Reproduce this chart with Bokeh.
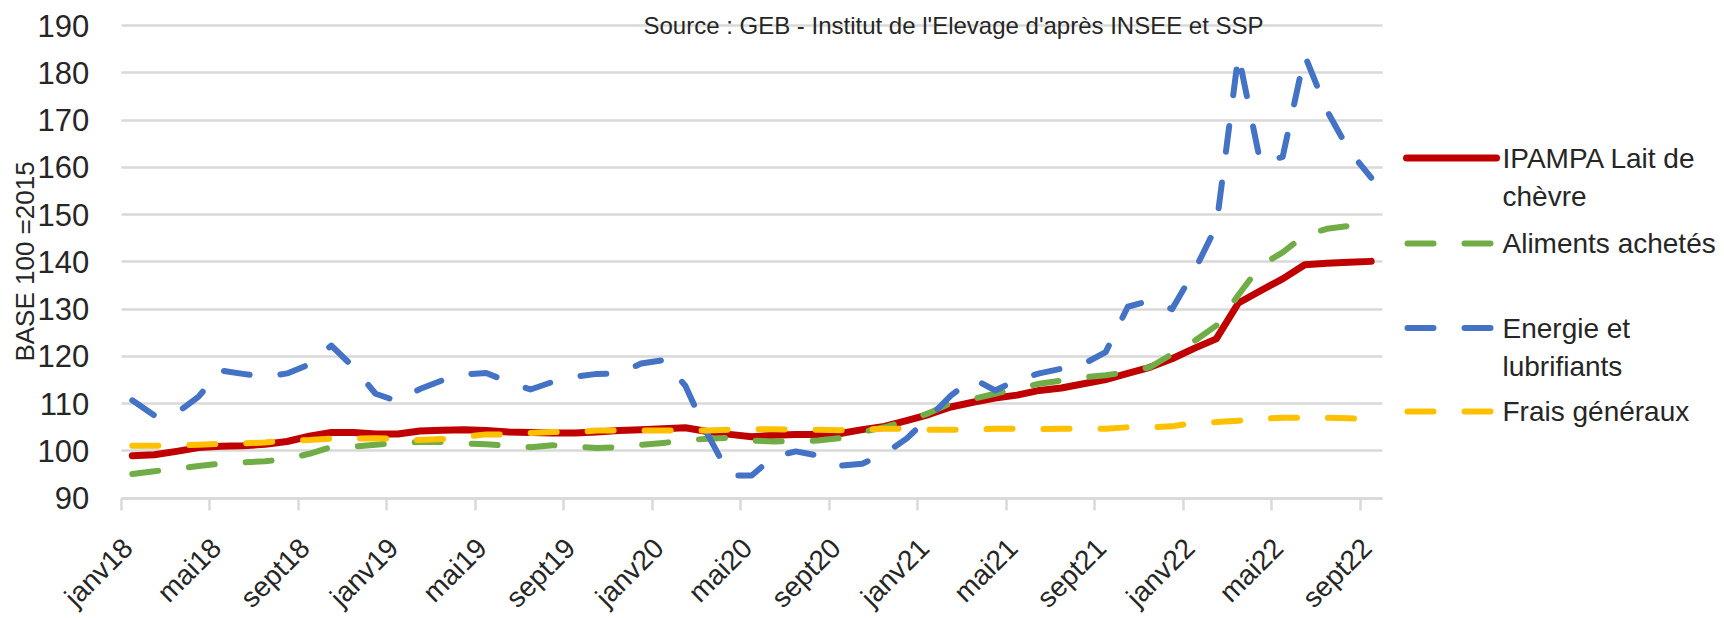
import math
from bokeh.plotting import figure
from bokeh.models import Range1d, FixedTicker, Label
from bokeh.embed import file_html
from bokeh.resources import INLINE
from bokeh.core.properties import value

# ---------------- data ----------------
month_names = ["janv", "févr", "mars", "avr", "mai", "juin",
               "juil", "août", "sept", "oct", "nov", "déc"]
years = ["18", "19", "20", "21", "22"]
months = [m + y for y in years for m in month_names][:57]   # janv18 .. sept22

tick_labels = ["janv18", "mai18", "sept18", "janv19", "mai19", "sept19",
               "janv20", "mai20", "sept20", "janv21", "mai21", "sept21",
               "janv22", "mai22", "sept22"]

ipampa = [99.0, 99.2, 99.9, 100.7, 101.0, 101.1, 101.4, 102.0, 103.1, 103.9,
          103.9, 103.6, 103.6, 104.2, 104.4, 104.5, 104.3, 104.0, 103.9, 103.8,
          103.8, 104.0, 104.3, 104.5, 104.7, 104.9, 104.1, 103.5, 103.0, 103.3,
          103.5, 103.5, 103.7, 104.5, 105.2, 106.4, 107.7, 109.3, 110.3, 111.2,
          111.8, 112.8, 113.3, 114.2, 115.1, 116.4, 117.7, 119.5, 121.7, 123.7,
          131.3, 133.9, 136.4, 139.4, 139.7, 139.9, 140.1]

aliments = [95.1, 95.7, 96.2, 96.8, 97.3, 97.6, 97.8, 98.3, 99.4, 100.8,
            100.9, 101.3, 101.7, 101.9, 101.9, 101.6, 101.4, 101.1, 100.8, 101.2,
            100.9, 100.6, 100.8, 101.3, 101.7, 102.2, 102.6, 102.8, 102.2, 102.0,
            102.1, 102.2, 102.7, 104.0, 105.0, 106.3, 108.0, 110.1, 111.0, 112.1,
            113.2, 114.2, 114.9, 115.6, 116.0, 116.7, 117.7, 120.5, 123.2, 126.5,
            133.0, 139.2, 142.0, 145.6, 147.0, 147.6, 147.5]

energie = [110.7, 107.5, 108.0, 111.5, 117.0, 116.3, 115.7, 116.4, 118.3, 122.3,
           117.7, 112.1, 110.5, 113.1, 114.9, 116.2, 116.5, 114.6, 113.0, 114.6,
           115.7, 116.3, 116.4, 118.5, 119.2, 113.8, 103.6, 94.8, 94.8, 98.8,
           99.9, 99.0, 96.9, 97.3, 99.4, 102.6, 107.0, 111.7, 115.3, 112.8,
           115.0, 116.4, 117.4, 118.4, 120.9, 130.5, 131.8, 130.0, 138.0, 147.5,
           183.8, 160.9, 162.2, 183.7, 172.0, 163.6, 157.8]

frais = [101.1, 101.1, 101.2, 101.3, 101.5, 101.6, 101.8, 102.2, 102.3, 102.6,
         102.6, 102.7, 102.5, 102.3, 102.5, 103.0, 103.5, 103.5, 103.8, 104.0,
         104.0, 104.3, 104.3, 104.3, 104.3, 104.3, 104.3, 104.5, 104.6, 104.6,
         104.5, 104.5, 104.4, 104.5, 104.7, 104.7, 104.5, 104.5, 104.5, 104.7,
         104.7, 104.6, 104.7, 104.7, 104.7, 105.0, 105.0, 105.2, 106.0, 106.1,
         106.4, 106.8, 107.0, 107.0, 107.0, 106.9, 106.7]

y_ticks = [90, 100, 110, 120, 130, 140, 150, 160, 170, 180, 190]

legend_labels = [["IPAMPA Lait de", "chèvre"], ["Aliments achetés"],
                 ["Energie et", "lubrifiants"], ["Frais généraux"]]

# ---------------- styles / layout ----------------
FONT = "Liberation Sans"
TXT = "#262626"
GRID = "#d9d9d9"
RED, GREEN, BLUE, YELLOW = "#C00000", "#70AD47", "#4472C4", "#FFC000"
DASH = "26 31"

# Bokeh's page template has no body margin, so the canvas fills the window.
W, H = 1724, 618
N = len(months)
PAGE_X_LEFT = 120.7                # left edge of the category band
PX_PER_CAT = 1261.0 / N            # horizontal size of one month
PX_PER_UNIT = 472.7 / 100.0        # vertical size of one index point
PAGE_Y90 = 497.7                   # row of value 90 (190 sits at 25)

# pixel -> data helpers (frame == whole canvas)
def xpx(px):
    return -0.5 + (px - PAGE_X_LEFT) / PX_PER_CAT

def ypx(py):
    return 90 + (PAGE_Y90 - py) / PX_PER_UNIT

x = list(range(N))

p = figure(width=W, height=H, output_backend="svg", toolbar_location=None,
           x_range=Range1d(xpx(0), xpx(W)),
           y_range=Range1d(ypx(H), ypx(0)),
           min_border_left=0, min_border_right=0, min_border_top=0,
           min_border_bottom=0)
p.outline_line_color = None
p.background_fill_color = "white"
p.border_fill_color = "white"

p.line(x, ipampa, line_color=RED, line_width=7, line_cap="round", line_join="round")
p.line(x, aliments, line_color=GREEN, line_width=6, line_dash=DASH,
       line_cap="round", line_join="round")
p.line(x, energie, line_color=BLUE, line_width=6, line_dash=DASH,
       line_cap="round", line_join="round")
p.line(x, frais, line_color=YELLOW, line_width=6, line_dash=DASH,
       line_cap="round", line_join="round")

# x axis drawn at value 90: tick marks on month boundaries, labels per month
LABEL_SHIFT = -0.2
label_pos = [months.index(t) for t in tick_labels]
label_at = [round(i + LABEL_SHIFT, 2) for i in label_pos]
boundaries = [i - 0.5 for i in label_pos]
xa = p.xaxis[0]
xa.fixed_location = 90
xa.bounds = (-0.5, N - 0.5)
xa.ticker = FixedTicker(ticks=label_at, minor_ticks=boundaries)
xa.major_label_overrides = {a: months[i] for a, i in zip(label_at, label_pos)}
xa.major_tick_out = 0
xa.major_tick_in = 0
xa.minor_tick_in = 0
xa.minor_tick_out = 12
xa.minor_tick_line_color = GRID
xa.minor_tick_line_width = 2.5
xa.axis_line_color = GRID
xa.axis_line_width = 2.5
xa.major_label_orientation = math.pi / 4
xa.major_label_standoff = 33
xa.major_label_text_font = FONT
xa.major_label_text_font_size = "28px"
xa.major_label_text_color = TXT

# value axis drawn at the left edge of the category band
ya = p.yaxis[0]
ya.fixed_location = -0.5
ya.ticker = FixedTicker(ticks=y_ticks)
ya.axis_line_color = None
ya.major_tick_out = 0
ya.major_tick_in = 0
ya.minor_tick_out = 0
ya.minor_tick_in = 0
ya.major_label_standoff = 32
ya.major_label_text_font = FONT
ya.major_label_text_font_size = "31px"
ya.major_label_text_color = TXT

p.add_layout(Label(x=xpx(24), y=ypx(261), text="BASE 100 =2015", angle=math.pi / 2,
                   text_font=FONT, text_font_size="26px", text_color=TXT,
                   text_align="center", text_baseline="middle"))

p.xgrid.visible = False
p.ygrid.ticker = FixedTicker(ticks=y_ticks)
p.ygrid.grid_line_color = GRID
p.ygrid.grid_line_width = 2.5
try:
    p.ygrid.cross_bounds = (-0.5, N - 0.5)
except Exception:
    p.ygrid.visible = False
    p.multi_line(xs=[[-0.5, N - 0.5] for _ in y_ticks],
                 ys=[[v, v] for v in y_ticks], line_color=GRID, line_width=2.5)

p.add_layout(Label(x=xpx(953), y=ypx(25),
                   text="Source : GEB - Institut de l'Elevage d'après INSEE et SSP",
                   text_font=FONT, text_font_size="24px", text_color=TXT,
                   text_align="center", text_baseline="alphabetic"))

# ---------------- legend (right-hand area of the frame) ----------------
entry_py = [157.5, 243, 327.5, 411]
line_gap = 38
p.line([xpx(1406), xpx(1496)], [ypx(entry_py[0])] * 2, line_color=RED,
       line_width=7, line_cap="round")
for col, py in zip([GREEN, BLUE, YELLOW], entry_py[1:]):
    p.line([xpx(1407), xpx(1492)], [ypx(py)] * 2, line_color=col, line_width=6,
           line_dash=DASH, line_cap="round")

tx, ty, tt = [], [], []
for lines, py in zip(legend_labels, entry_py):
    for k, t in enumerate(lines):
        tx.append(xpx(1502))
        ty.append(ypx(py + line_gap * k))
        tt.append(t)
p.text(x=tx, y=ty, text=tt, text_font=value(FONT), text_font_size="28px",
       text_color=TXT, text_baseline="middle", text_align="left")

open("out.html", "w").write(file_html(p, INLINE))
